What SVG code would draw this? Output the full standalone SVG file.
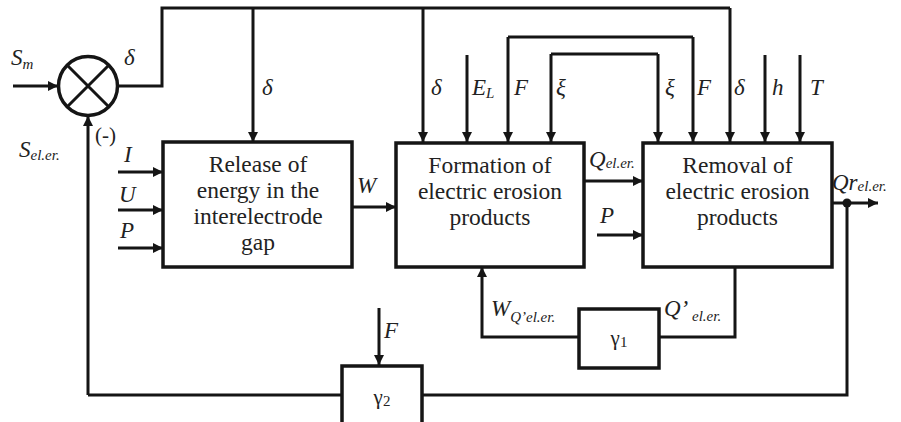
<svg xmlns="http://www.w3.org/2000/svg" width="901" height="422" viewBox="0 0 901 422" font-family="Liberation Serif, serif">
<defs>
<marker id="arr" markerUnits="userSpaceOnUse" markerWidth="10" markerHeight="10" refX="10" refY="5" orient="auto">
<path d="M0,0 L10,5 L0,10 z" fill="#151515"/>
</marker>
<style>
text{font-family:'Liberation Serif',serif;fill:#222;}
.ln{fill:none;stroke:#151515;stroke-width:3;}
.ar{fill:none;stroke:#151515;stroke-width:3;marker-end:url(#arr);}
.box{fill:#fff;stroke:#151515;stroke-width:3.5;}
.bt{font-size:23.5px;text-anchor:middle;}
.lb{font-size:23px;font-style:italic;}
.sb{font-size:15px;}
.gm{font-size:21px;text-anchor:middle;}
.pl{font-size:21px;}
</style>
</defs>
<rect width="901" height="422" fill="#fff"/>

<g id="connectors">
<path class="ar" d="M13,86 L58,86"/>
<path class="ar" d="M88,395 L88,116"/>
<path class="ln" d="M118,86 L162,86 L162,8 L730,8"/>
<path class="ar" d="M253,8 L253,142"/>
<path class="ar" d="M423,8 L423,142"/>
<path class="ar" d="M730,8 L730,142"/>
<path class="ar" d="M118,172 L163,172"/>
<path class="ar" d="M118,210 L163,210"/>
<path class="ar" d="M118,248 L163,248"/>
<path class="ar" d="M352,207 L396,207"/>
<path class="ar" d="M467,55 L467,142"/>
<path class="ar" d="M693,37 L693,142"/>
<path class="ar" d="M508,37 L508,142"/>
<path class="ln" d="M508,37 L693,37"/>
<path class="ar" d="M658,54 L658,142"/>
<path class="ar" d="M551,54 L551,142"/>
<path class="ln" d="M551,54 L658,54"/>
<path class="ar" d="M765,55 L765,142"/>
<path class="ar" d="M800,55 L800,142"/>
<path class="ar" d="M584,181 L643,181"/>
<path class="ar" d="M597,235 L643,235"/>
<path class="ar" d="M832,203 L878,203"/>
<circle cx="847" cy="203" r="4.5" fill="#151515"/>
<path class="ln" d="M847,203 L847,395 L422,395"/>
<path class="ln" d="M342,395 L88,395"/>
<path class="ln" d="M735,267 L735,337 L659,337"/>
<path class="ar" d="M579,337 L482,337 L482,267"/>
<path class="ar" d="M379,308 L379,365"/>
</g>

<g id="labels">
<text class="lb" x="11" y="65">S<tspan class="sb" dy="4">m</tspan></text>
<text class="lb" x="124" y="65">δ</text>
<text class="lb" x="262" y="95">δ</text>
<text class="pl" x="95" y="142">(-)</text>
<text class="lb" x="19" y="157">S<tspan class="sb" dy="3">el.er.</tspan></text>
<text class="lb" x="124" y="162">I</text>
<text class="lb" x="119" y="202">U</text>
<text class="lb" x="120" y="238">P</text>
<text class="lb" x="357" y="193">W</text>
<text class="lb" x="431" y="95">δ</text>
<text class="lb" x="472" y="95">E<tspan class="sb" dy="3">L</tspan></text>
<text class="lb" x="514" y="95">F</text>
<text class="lb" x="556" y="95">ξ</text>
<text class="lb" x="665" y="95">ξ</text>
<text class="lb" x="697" y="95">F</text>
<text class="lb" x="734" y="95">δ</text>
<text class="lb" x="772" y="95">h</text>
<text class="lb" x="810" y="95">T</text>
<text class="lb" x="589" y="167">Q<tspan class="sb" dy="1">el.er.</tspan></text>
<text class="lb" x="600" y="223">P</text>
<text class="lb" x="832" y="190">Qr<tspan class="sb" dy="1">el.er.</tspan></text>
<text class="lb" x="491" y="316">W<tspan class="sb" dy="6">Q’el.er.</tspan></text>
<text class="lb" x="664" y="316">Q’<tspan class="sb" dy="5"> el.er.</tspan></text>
<text class="lb" x="384" y="338">F</text>
</g>

<g id="sum">
<circle cx="88" cy="86" r="29.5" fill="#fff" stroke="#151515" stroke-width="3.5"/>
<path class="ln" d="M67,65 L109,107 M109,65 L67,107" stroke-width="3.5"/>
</g>

<g id="release">
<rect class="box" x="163" y="142" width="189" height="125"/>
<text class="bt" x="258" y="172">Release of</text>
<text class="bt" x="258" y="198">energy in the</text>
<text class="bt" x="258" y="224">interelectrode</text>
<text class="bt" x="258" y="250">gap</text>
</g>

<g id="formation">
<rect class="box" x="396" y="143" width="188" height="124"/>
<text class="bt" x="490" y="173">Formation of</text>
<text class="bt" x="490" y="199">electric erosion</text>
<text class="bt" x="490" y="225">products</text>
</g>

<g id="removal">
<rect class="box" x="643" y="143" width="189" height="124"/>
<text class="bt" x="737.5" y="173">Removal of</text>
<text class="bt" x="737.5" y="199">electric erosion</text>
<text class="bt" x="737.5" y="225">products</text>
</g>

<g id="gamma1">
<rect class="box" x="579" y="309" width="80" height="59"/>
<text class="gm" x="619" y="345">γ<tspan font-size="15" dy="2">1</tspan></text>
</g>

<g id="gamma2">
<rect class="box" x="342" y="366" width="80" height="58"/>
<text class="gm" x="382" y="404">γ<tspan font-size="15" dy="2">2</tspan></text>
</g>
</svg>
